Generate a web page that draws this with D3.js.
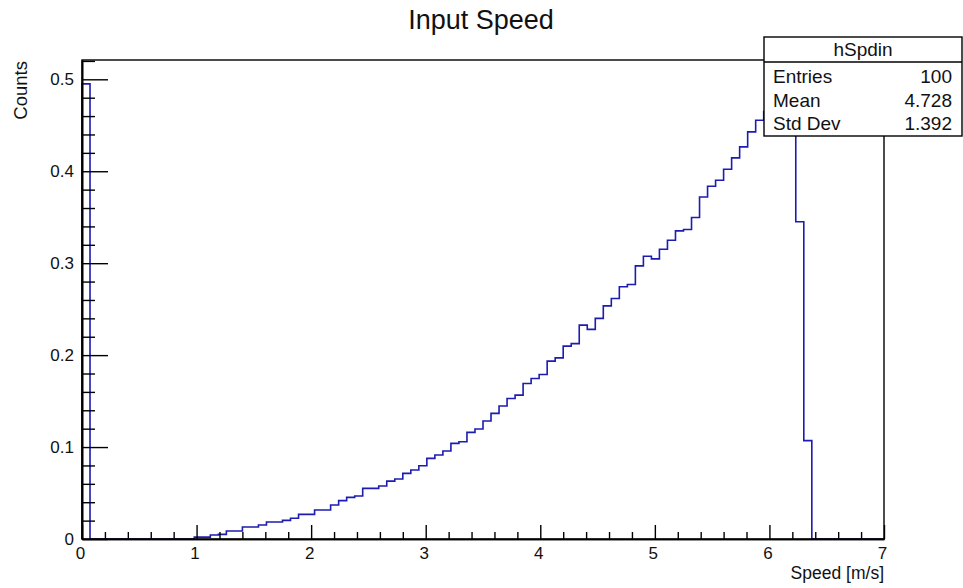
<!DOCTYPE html>
<html>
<head>
<meta charset="utf-8">
<script src="https://cdn.jsdelivr.net/npm/d3@7"></script>
<style>
	body { margin: 0; background: #fff; }
	text { font-family: "Liberation Sans", Arial, sans-serif; fill: #111; }
</style>
</head>
<body>
<div class="hist"></div>
<script>
// 100 bins from 0 to 7 m/s
const binEdges = [0, 7];
const nBins = 100;
const counts = [
	0.495, 0, 0, 0, 0, 0, 0, 0, 0, 0,
	0, 0, 0, 0, 0.002, 0.002, 0.0043, 0.005, 0.0087, 0.0087,
	0.013, 0.013, 0.0152, 0.0185, 0.0185, 0.0203, 0.0225, 0.0268, 0.0268, 0.0315,
	0.0315, 0.037, 0.0417, 0.0453, 0.0467, 0.0551, 0.0551, 0.0576, 0.063, 0.0652,
	0.0714, 0.075, 0.0797, 0.0877, 0.0913, 0.0957, 0.104, 0.1058, 0.116, 0.1196,
	0.1283, 0.1366, 0.1446, 0.1529, 0.1565, 0.1692, 0.1746, 0.179, 0.1935, 0.197,
	0.2098, 0.2125, 0.2326, 0.228, 0.240, 0.2536, 0.2616, 0.2743, 0.2768, 0.2971,
	0.3076, 0.3047, 0.3152, 0.325, 0.3351, 0.3366, 0.3497, 0.372, 0.3837, 0.3902,
	0.4022, 0.4145, 0.4265, 0.4428, 0.4554, 0.465, 0.472, 0.48, 0.487, 0.345,
	0.107, 0, 0, 0, 0, 0, 0, 0, 0, 0
];
const xTicks = [0, 1, 2, 3, 4, 5, 6, 7];
const yTicks = [0, 0.1, 0.2, 0.3, 0.4, 0.5];
const statLabels = ["Entries", "Mean", "Std Dev"];
const statValues = ["100", "4.728", "1.392"];

const width = 963, height = 588;
const padL = 82, padR = 884, padT = 60, padB = 539;

const svg = d3.select('.hist')
	.append('svg')
	.attr('width', width)
	.attr('height', height)

const x = d3.scaleLinear().domain(binEdges).range([padL, padR]);
const y = d3.scaleLinear().domain([0, 0.521]).range([padB, padT]);
const binW = (binEdges[1] - binEdges[0]) / nBins;

// histogram outline
let pts = [[0, 0]];
counts.forEach(function(c, i){
	pts.push([i * binW, c]);
	pts.push([(i + 1) * binW, c]);
});
pts.push([binEdges[1], 0]);

svg.append("path")
	.attr("d", d3.line().x(d => x(d[0])).y(d => y(d[1]))(pts))
	.attr("fill", "none")
	.attr("stroke", "#1c1cb0")
	.attr("stroke-width", 1.6)

// frame
svg.append("rect")
	.attr("x", padL).attr("y", padT)
	.attr("width", padR - padL).attr("height", padB - padT)
	.attr("fill", "none")
	.attr("stroke", "#000")
	.attr("stroke-width", 1.4)

// x axis
const xMinor = d3.range(0, 7.001, 0.2).filter(v => Math.abs(v - Math.round(v)) > 0.01);
svg.append("g")
	.attr("transform", "translate(0," + padB + ")")
	.call(d3.axisBottom(x).tickValues(xMinor).tickSizeInner(-7).tickSizeOuter(0).tickFormat(""))
svg.append("g")
	.attr("class", "xaxis")
	.attr("transform", "translate(0," + padB + ")")
	.call(d3.axisBottom(x).tickValues(xTicks).tickSizeInner(-14).tickSizeOuter(0).tickPadding(8).tickFormat(d3.format("d")))

// y axis
const yMinor = d3.range(0, 0.521, 0.02).filter(v => Math.abs(v * 10 - Math.round(v * 10)) > 0.01);
svg.append("g")
	.attr("transform", "translate(" + padL + ",0)")
	.call(d3.axisLeft(y).tickValues(yMinor).tickSizeInner(-13).tickSizeOuter(0).tickFormat(""))
svg.append("g")
	.attr("class", "yaxis")
	.attr("transform", "translate(" + padL + ",0)")
	.call(d3.axisLeft(y).tickValues(yTicks).tickSizeInner(-26).tickSizeOuter(0).tickPadding(8).tickFormat(d => d === 0 ? "0" : d3.format(".1f")(d)))

svg.selectAll(".tick line").attr("stroke", "#000").attr("stroke-width", 1.4)
svg.selectAll(".domain").attr("stroke", "#000").attr("stroke-width", 1.6)
svg.selectAll(".xaxis text, .yaxis text")
	.attr("font-size", 17)
	.attr("font-family", "Liberation Sans, Arial, sans-serif")
	.attr("fill", "#222")
svg.select(".xaxis").selectAll("text").attr("dx", -2)

// titles
svg.append("text")
	.text("Input Speed")
	.attr("x", 481).attr("y", 29)
	.attr("text-anchor", "middle")
	.attr("font-size", 27)

svg.append("text")
	.text("Speed [m/s]")
	.attr("x", padR).attr("y", 579)
	.attr("text-anchor", "end")
	.attr("font-size", 17.5)

svg.append("text")
	.text("Counts")
	.attr("transform", "translate(27," + (padT + 1) + ") rotate(-90)")
	.attr("text-anchor", "end")
	.attr("font-size", 18.5)

// stats box
const box = svg.append("g");
box.append("rect")
	.attr("x", 764).attr("y", 37)
	.attr("width", 198).attr("height", 99)
	.attr("fill", "#fff")
	.attr("stroke", "#000")
	.attr("stroke-width", 1.4)
box.append("line")
	.attr("x1", 764).attr("x2", 962)
	.attr("y1", 62).attr("y2", 62)
	.attr("stroke", "#000")
	.attr("stroke-width", 1.4)
box.append("text")
	.text("hSpdin")
	.attr("x", 863).attr("y", 56)
	.attr("text-anchor", "middle")
	.attr("font-size", 19)
box.selectAll(".statLabel")
	.data(statLabels)
	.enter()
	.append("text")
	.attr("class", "statLabel")
	.text(d => d)
	.attr("x", 773)
	.attr("y", (d, i) => 83 + i * 23.5)
	.attr("font-size", 19)
box.selectAll(".statValue")
	.data(statValues)
	.enter()
	.append("text")
	.attr("class", "statValue")
	.text(d => d)
	.attr("x", 952)
	.attr("y", (d, i) => 83 + i * 23.5)
	.attr("text-anchor", "end")
	.attr("font-size", 19)
</script>
</body>
</html>
